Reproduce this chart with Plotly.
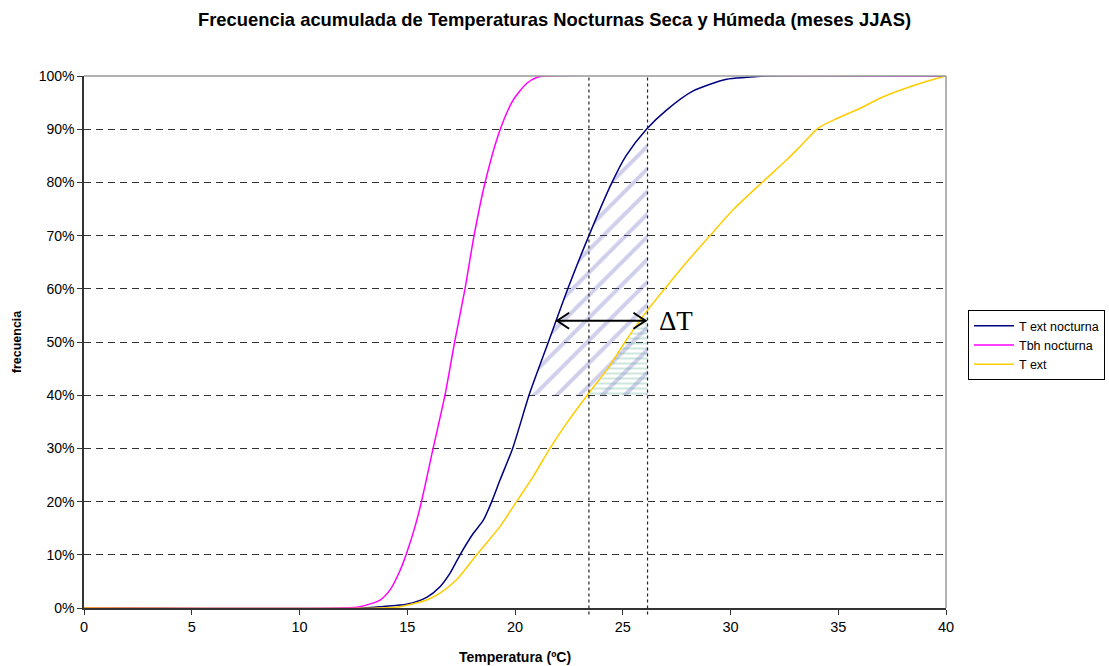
import numpy as np
import plotly.graph_objects as go

# Cumulative frequency curves (temperature in ºC, frequency in %)
t_noct = [0, 13.0, 13.9, 14.97, 15.9, 16.52, 16.98, 17.45, 18.06, 18.53, 18.92, 19.30,
          19.89, 20.2, 20.65, 21.55, 22.45, 23.43, 24.5, 25.15, 26.1, 27.03, 28.27,
          29.82, 30.75, 31.5, 40]
f_noct = [0, 0, 0.3, 0.7, 2, 4, 6.5, 10, 14, 16.5, 20, 24,
          30, 34, 40, 50, 60, 70, 80, 85, 90, 93.6, 97.2,
          99.4, 99.75, 100, 100]

t_bh = [0, 12.0, 12.8, 13.74, 14.2, 14.66, 14.97, 15.36, 15.66, 16.2, 16.75, 17.2,
        17.68, 18.1, 18.6, 19.3, 19.92, 20.54, 21.03, 21.4, 40]
f_bh = [0, 0, 0.25, 1.5, 3.4, 7, 10.3, 15.3, 20, 30, 40, 50,
        60, 70, 79.8, 89.8, 95.5, 98.6, 99.75, 100, 100]

t_ext = [0, 13.8, 14.66, 15.9, 16.52, 17.29, 18.22, 19.3, 20.07, 20.84, 21.62, 22.39,
         23.35, 24.3, 25.2, 26.15, 27.27, 28.05, 29.05, 30.13, 31.44, 32.6,
         33.22, 34.07, 34.77, 36.0, 37.09, 38.79, 40]
f_ext = [0, 0, 0.25, 1.5, 2.8, 5.3, 10, 15.3, 20, 24.7, 30, 34.7,
         40, 45, 50.6, 56, 61.6, 65.4, 70, 74.9, 79.9, 84.2,
         86.7, 90.2, 91.7, 93.9, 96.1, 98.6, 100]

x_ticks = [0, 5, 10, 15, 20, 25, 30, 35, 40]
y_ticks = [0, 10, 20, 30, 40, 50, 60, 70, 80, 90, 100]
y_tick_labels = ["0%", "10%", "20%", "30%", "40%", "50%", "60%", "70%", "80%", "90%", "100%"]

# Reference temperatures marked with vertical lines and the shading band
t_ref_lo = 23.43
t_ref_hi = 26.15
f_band_min = 40
f_arrow = 54

NAVY = "#000080"
MAGENTA = "#FF00FF"
GOLD = "#FFCC00"
FONT = "Liberation Sans, Arial, sans-serif"


def band_polygon(ts, fs, f_min, t_max):
    """Region under a cumulative curve, above f_min and left of t_max."""
    ts = np.asarray(ts, float)
    fs = np.asarray(fs, float)
    t_start = float(np.interp(f_min, fs, ts))
    f_end = float(np.interp(t_max, ts, fs))
    inner = (ts > t_start) & (ts < t_max)
    px = [t_start] + ts[inner].tolist() + [t_max, t_max, t_start]
    py = [f_min] + fs[inner].tolist() + [f_end, f_min, f_min]
    return px, py


fig = go.Figure()

# Hatched bands between each curve and the upper reference temperature
bx, by = band_polygon(t_noct, f_noct, f_band_min, t_ref_hi)
fig.add_trace(go.Scatter(
    x=bx, y=by, mode="lines", line=dict(width=0), fill="toself",
    fillcolor="rgba(0,0,0,0)",
    fillpattern=dict(shape="/", size=16, solidity=0.25,
                     fgcolor="rgba(80,80,185,0.55)", bgcolor="rgba(255,255,255,0)"),
    showlegend=False, hoverinfo="skip"))

gx, gy = band_polygon(t_ext, f_ext, f_band_min, t_ref_hi)
fig.add_trace(go.Scatter(
    x=gx, y=gy, mode="lines", line=dict(width=0), fill="toself",
    fillcolor="rgba(0,0,0,0)",
    fillpattern=dict(shape="-", size=5, solidity=0.4,
                     fgcolor="rgba(90,170,140,0.6)", bgcolor="rgba(255,255,255,0)"),
    showlegend=False, hoverinfo="skip"))

curve_line = dict(width=1.5, shape="spline", smoothing=0.7)
fig.add_trace(go.Scatter(x=t_noct, y=f_noct, mode="lines", name="T ext nocturna",
                         line=dict(curve_line, color=NAVY)))
fig.add_trace(go.Scatter(x=t_bh, y=f_bh, mode="lines", name="Tbh nocturna",
                         line=dict(curve_line, color=MAGENTA)))
fig.add_trace(go.Scatter(x=t_ext, y=f_ext, mode="lines", name="T ext",
                         line=dict(curve_line, color=GOLD)))

# Vertical reference lines
for tv in (t_ref_lo, t_ref_hi):
    fig.add_shape(type="line", xref="x", yref="paper", x0=tv, x1=tv, y0=-0.012, y1=1,
                  line=dict(color="#222222", width=1.2, dash="3px,3px"), layer="above")

# Plot frame: grey top/right edges
fig.add_shape(type="line", xref="paper", yref="paper", x0=0, x1=1, y0=1, y1=1,
              line=dict(color="#999999", width=1.5), layer="above")
fig.add_shape(type="line", xref="paper", yref="paper", x0=1, x1=1, y0=0, y1=1,
              line=dict(color="#999999", width=1.5), layer="above")

# Double-headed ΔT arrow from the nocturnal curve to the upper reference line
t_arrow_start = float(np.interp(f_arrow, f_noct, t_noct))
t_arrow_end = t_ref_hi - 0.05
arrow_style = dict(color="black", width=2)
fig.add_shape(type="line", xref="x", yref="y", x0=t_arrow_start, x1=t_arrow_end,
              y0=f_arrow, y1=f_arrow, line=arrow_style, layer="above")
# open chevron heads, sized in pixels around each arrow end
fig.add_shape(type="path", xref="x", yref="y", xsizemode="pixel", ysizemode="pixel",
              xanchor=t_arrow_start, yanchor=f_arrow, path="M 13,8 L 1,0 L 13,-8",
              line=arrow_style, layer="above")
fig.add_shape(type="path", xref="x", yref="y", xsizemode="pixel", ysizemode="pixel",
              xanchor=t_arrow_end, yanchor=f_arrow, path="M -13,8 L -1,0 L -13,-8",
              line=arrow_style, layer="above")
fig.add_annotation(x=t_ref_hi + 0.45, y=f_arrow, xref="x", yref="y", text="ΔT",
                   showarrow=False, xanchor="left", yanchor="middle",
                   font=dict(family="Liberation Serif, Times New Roman, serif",
                             size=27, color="black"))

fig.update_layout(
    width=1109, height=666,
    margin=dict(l=84, r=163, t=76, b=58, autoexpand=False),
    paper_bgcolor="white", plot_bgcolor="white",
    font=dict(family=FONT, size=13, color="black"),
    title=dict(text="<b>Frecuencia acumulada de Temperaturas Nocturnas Seca y Húmeda (meses JJAS)</b>",
               x=0.5, xref="container", xanchor="center", y=0.97, yref="container",
               yanchor="middle", font=dict(family=FONT, size=18.4, color="black")),
    legend=dict(x=(968 - 84) / 862, y=(608 - 310) / 532, xanchor="left", yanchor="top",
                xref="paper", yref="paper", bordercolor="black", borderwidth=1,
                bgcolor="white", font=dict(family=FONT, size=12.5), tracegroupgap=0,
                itemwidth=40),
    showlegend=True,
)

fig.update_xaxes(
    range=[0, 40], tickvals=x_ticks, ticks="outside", ticklen=5, tickcolor="#333",
    showline=True, linecolor="#333", linewidth=1.5, showgrid=False, zeroline=False,
    tickfont=dict(family=FONT, size=14.5), automargin=False,
    title=dict(text="<b>Temperatura (ºC)</b>", font=dict(family=FONT, size=14), standoff=18),
)
fig.update_yaxes(
    range=[0, 100], tickvals=y_ticks, ticktext=y_tick_labels, ticks="outside", ticklen=5,
    tickcolor="#333", showline=True, linecolor="#333", linewidth=1.5,
    showgrid=True, gridcolor="#333333", griddash="7px,5px", gridwidth=1, zeroline=False,
    tickfont=dict(family=FONT, size=14), automargin=False,
    title=dict(text="<b>frecuencia</b>", font=dict(family=FONT, size=12.5), standoff=14),
)

fig.write_html("out.html")
